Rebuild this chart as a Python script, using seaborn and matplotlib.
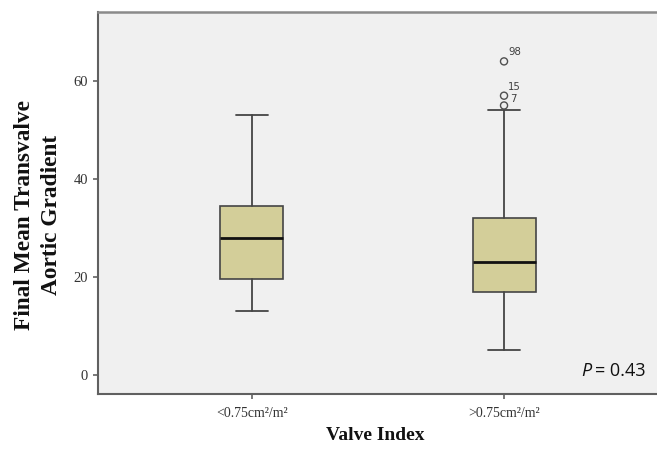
import matplotlib
matplotlib.use("Agg")
import matplotlib.pyplot as plt
import seaborn as sns

# ---- data ----
groups = ["<0.75cm²/m²", ">0.75cm²/m²"]
whisker_low = [13, 5]
q1 = [19.5, 17]
median = [28, 23]
q3 = [34.5, 32]
whisker_high = [53, 54]
outlier_group = [">0.75cm²/m²", ">0.75cm²/m²", ">0.75cm²/m²"]
outlier_values = [64, 57, 55]
outlier_ids = ["98", "15", "7"]
y_ticks = [0, 20, 40, 60]
p_value = "0.43"

# label offsets (points) for outlier case numbers
label_offsets = [(3, 6.5), (3, 6), (4.5, 4.5)]

sns.set_theme(style="ticks")
plt.rcParams["font.family"] = ["Liberation Serif", "DejaVu Serif"]

W, H = 657, 453
fig = plt.figure(figsize=(W / 100, H / 100), dpi=100)
ax = fig.add_axes([98 / W, 1 - 394 / H, 1 - 98 / W, (394 - 12) / H])
ax.set_facecolor("#F0F0F0")

positions = list(range(len(groups)))
stats = [
    dict(label=g, whislo=wl, q1=a, med=m, q3=b, whishi=wh, fliers=[])
    for g, wl, a, m, b, wh in zip(groups, whisker_low, q1, median, q3, whisker_high)
]
edge = "#454545"
ax.bxp(stats, positions=positions, widths=0.25, patch_artist=True, showfliers=False,
       boxprops=dict(facecolor="#D3CE99", edgecolor=edge, linewidth=1.2),
       medianprops=dict(color="#111111", linewidth=2.0),
       whiskerprops=dict(color=edge, linewidth=1.3),
       capprops=dict(color=edge, linewidth=1.3))

outlier_pos = [groups.index(g) for g in outlier_group]
sns.scatterplot(x=outlier_pos, y=outlier_values, ax=ax, marker="o", s=26,
                facecolors="none", edgecolor="#505050", linewidth=1.0, zorder=5)
for xp, yv, lab, off in zip(outlier_pos, outlier_values, outlier_ids, label_offsets):
    ax.annotate(lab, (xp, yv), xytext=off, textcoords="offset points",
                fontsize=7.3, color="#404040", family="DejaVu Sans",
                ha="left", va="center")

ax.set_xlim(-0.611, 1.607)
ax.set_ylim(-3.88, 74.08)
ax.set_xticks(positions)
ax.set_xticklabels(groups)
ax.set_yticks(y_ticks)
ax.set_xlabel("")
ax.set_ylabel("")

ax.tick_params(axis="both", direction="out", length=3.6, width=1.1, color="#555555",
               labelcolor="#333333")
ax.tick_params(axis="x", labelsize=10, pad=6)
ax.tick_params(axis="y", labelsize=10.5, pad=3.6)

for side in ["left", "bottom"]:
    ax.spines[side].set_color("#606060")
    ax.spines[side].set_linewidth(1.5)
ax.spines["top"].set_color("#8a8a8a")
ax.spines["top"].set_linewidth(1.8)
ax.spines["right"].set_visible(False)

fig.text(38 / W, 1 - 215 / H, "Final Mean Transvalve\nAortic Gradient",
         rotation=90, ha="center", va="center", multialignment="center",
         fontsize=16.8, fontweight="bold", color="#111111", linespacing=1.35)
fig.text(375 / W, 1 - 436 / H, "Valve Index", ha="center", va="center",
         fontsize=14, fontweight="bold", color="#111111")

fig.text(646 / W, 1 - 371 / H, "= " + p_value, ha="right", va="center",
         fontsize=13, family="Open Sans", color="#111111")
fig.text(592 / W, 1 - 371 / H, "P", ha="right", va="center",
         fontsize=13, family="Open Sans", style="italic", color="#111111")

fig.savefig("out.png", dpi=100, facecolor="white")
